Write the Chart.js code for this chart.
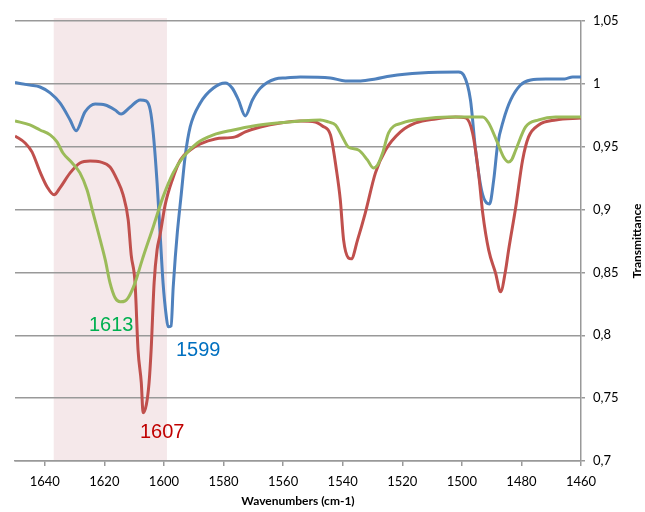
<!DOCTYPE html>
<html>
<head>
<meta charset="utf-8">
<script src="https://cdn.jsdelivr.net/npm/chart.js@4.4.1/dist/chart.umd.min.js"></script>
<style>
  html, body { margin: 0; padding: 0; background: #fff; }
  #wrap { width: 645px; height: 512px; position: relative; }
</style>
</head>
<body>
<div id="wrap"><canvas id="irChart"></canvas></div>
<script>
// blue spectrum
const blueWn = [1650, 1645, 1641.6, 1638.2, 1634.9, 1631.5, 1629.5, 1626.5, 1623.1, 1619.7, 1616.4, 1614.4, 1611.3, 1608, 1606, 1604.6,
  1603.6, 1602.3, 1601.3, 1600.3, 1599.2, 1598.6, 1597.6, 1596.9, 1596.2, 1595.5, 1594.2, 1592.9, 1591.2, 1587.8, 1583.4, 1579.4,
  1577.1, 1575, 1572.7, 1570.3, 1567.6, 1562.6, 1559.2, 1554.2, 1544.1, 1539.1, 1534, 1529, 1523.9, 1513.9, 1501.1, 1499.4,
  1497.1, 1495.4, 1493.4, 1491.7, 1490.7, 1489.3, 1488, 1486, 1483.6, 1480.3, 1476.9, 1471.8, 1465.5, 1462.8, 1460];
const blueT = [1.001, 0.999, 0.9975, 0.9928, 0.9848, 0.9713, 0.9626, 0.9777, 0.984, 0.9832, 0.9792, 0.976, 0.9816, 0.9872, 0.9864, 0.9792,
  0.961, 0.9212, 0.8815, 0.8417, 0.8147, 0.8067, 0.8075, 0.838, 0.862, 0.882, 0.912, 0.9419, 0.9657, 0.9848, 0.9967, 1.0007,
  0.9967, 0.9872, 0.9745, 0.9872, 0.9967, 1.0039, 1.0047, 1.0055, 1.0047, 1.0023, 1.0023, 1.0039, 1.0063, 1.0087, 1.0095, 1.0071,
  0.9872, 0.9474, 0.9156, 0.9053, 0.9045, 0.9236, 0.9514, 0.9713, 0.9872, 0.9991, 1.0031, 1.0039, 1.0039, 1.0055, 1.0055];

// red spectrum
const redWn = [1650, 1646.6, 1644.3, 1641.6, 1639.2, 1636.9, 1634.9, 1631.5, 1628.2, 1624.8, 1621.4, 1618.1, 1615.7, 1613.7, 1612, 1611,
  1609.7, 1608.7, 1607.6, 1607, 1605.9, 1605, 1604.3, 1603.3, 1602.3, 1601.3, 1599.6, 1597.2, 1594.5, 1591.2, 1587.8, 1582.8,
  1576.1, 1572.7, 1567.6, 1560.9, 1554.2, 1549.2, 1546.8, 1544.1, 1542.1, 1540.8, 1539.7, 1538.1, 1537.1, 1535, 1532.4, 1529,
  1525.6, 1520.6, 1515.5, 1508.8, 1502.1, 1498.7, 1496.4, 1494.4, 1493, 1491, 1488.7, 1487, 1485.3, 1484.3, 1481.9, 1479.6,
  1477.6, 1474.2, 1468.5, 1460];
const redT = [0.9586, 0.953, 0.9459, 0.93, 0.918, 0.9117, 0.9173, 0.9292, 0.9371, 0.9387, 0.9379, 0.9339, 0.9236, 0.9117, 0.8918, 0.864,
  0.8417, 0.7884, 0.7622, 0.7384, 0.745, 0.7622, 0.7884, 0.8417, 0.868, 0.8799, 0.9037, 0.9236, 0.9395, 0.9474, 0.9522, 0.9562,
  0.9578, 0.9618, 0.9657, 0.9689, 0.9705, 0.9697, 0.9665, 0.9594, 0.9315, 0.9077, 0.8759, 0.8616, 0.8608, 0.8759, 0.8974, 0.9292,
  0.9474, 0.9618, 0.9689, 0.9721, 0.9737, 0.9729, 0.961, 0.9292, 0.8974, 0.8679, 0.8497, 0.8346, 0.852, 0.8679, 0.9021, 0.9395,
  0.9578, 0.9673, 0.9713, 0.9729];

// green spectrum
const greenWn = [1650, 1645, 1641.6, 1638.2, 1635.9, 1633.9, 1630.8, 1628.2, 1625.8, 1623.8, 1621.4, 1619.7, 1618.1, 1616.4, 1614.7, 1613,
  1612, 1609.7, 1607.3, 1603.6, 1600.3, 1596.9, 1593.5, 1588.8, 1583.4, 1576.7, 1570, 1561.9, 1554.2, 1547.5, 1544.8, 1542.4,
  1540.1, 1538.1, 1534.7, 1531.7, 1529.7, 1528.3, 1526.6, 1524.6, 1519.9, 1513.2, 1504.5, 1493, 1491, 1488, 1486, 1484.3,
  1483.3, 1481.9, 1478.6, 1474.2, 1468.5, 1460];
const greenT = [0.9705, 0.9673, 0.9633, 0.9594, 0.9538, 0.945, 0.9371, 0.9292, 0.9156, 0.8974, 0.8759, 0.86, 0.8417, 0.8298, 0.8266, 0.8274,
  0.8298, 0.8417, 0.86, 0.8862, 0.9101, 0.9292, 0.9419, 0.953, 0.9594, 0.9633, 0.9665, 0.9689, 0.9705, 0.9713, 0.9697, 0.9673,
  0.9578, 0.9498, 0.9474, 0.9395, 0.9331, 0.9355, 0.945, 0.961, 0.9689, 0.9721, 0.9737, 0.9737, 0.9689, 0.953, 0.9419, 0.9379,
  0.9395, 0.9474, 0.9657, 0.9713, 0.9737, 0.9737];

const xTicks = [1640, 1620, 1600, 1580, 1560, 1540, 1520, 1500, 1480, 1460];
const peakLabels = ['1613', '1599', '1607'];
const peakWn = [1617.7, 1588.5, 1600.6];
const peakT = [0.808, 0.788, 0.7225];
const bandRange = [1637, 1599];

const toPoints = (xs, ys) => xs.map((x, i) => ({ x: x, y: ys[i] }));

const bandPlugin = {
  id: 'band',
  beforeDraw(chart) {
    const { ctx, chartArea, scales } = chart;
    const x1 = scales.x.getPixelForValue(bandRange[0]);
    const x2 = scales.x.getPixelForValue(bandRange[1]);
    ctx.save();
    ctx.fillStyle = '#F5E8EA';
    ctx.fillRect(x1, chartArea.top - 3, x2 - x1, chartArea.bottom - chartArea.top + 3);
    ctx.restore();
  }
};

const labelPlugin = {
  id: 'peaks',
  afterDatasetsDraw(chart) {
    const { ctx, scales } = chart;
    const colors = ['#00B050', '#0070C0', '#C00000'];
    ctx.save();
    ctx.font = '20px "Liberation Sans", Arial, sans-serif';
    ctx.textAlign = 'center';
    ctx.textBaseline = 'middle';
    peakLabels.forEach((t, i) => {
      ctx.fillStyle = colors[i];
      ctx.fillText(t, scales.x.getPixelForValue(peakWn[i]), scales.y.getPixelForValue(peakT[i]));
    });
    // right-hand axis title, reading bottom to top
    const a = chart.chartArea;
    ctx.translate(637, (a.top + a.bottom) / 2);
    ctx.rotate(-Math.PI / 2);
    ctx.fillStyle = '#000';
    ctx.font = 'bold 12px Lato, "Open Sans", sans-serif';
    ctx.fillText('Transmittance', 0, 0);
    ctx.restore();
  }
};

const lineStyle = (color) => ({
  borderColor: color,
  borderWidth: 3,
  pointRadius: 0,
  cubicInterpolationMode: 'monotone',
  fill: false
});

new Chart(document.getElementById('irChart'), {
  type: 'line',
  data: {
    datasets: [
      { label: 'green', data: toPoints(greenWn, greenT), ...lineStyle('#9BBB59') },
      { label: 'red', data: toPoints(redWn, redT), ...lineStyle('#C0504D') },
      { label: 'blue', data: toPoints(blueWn, blueT), ...lineStyle('#4F81BD') }
    ]
  },
  options: {
    responsive: true,
    maintainAspectRatio: false,
    animation: false,
    layout: { padding: { left: 15, top: 21, right: 0, bottom: 0 } },
    plugins: { legend: { display: false }, tooltip: { enabled: false } },
    scales: {
      x: {
        type: 'linear',
        reverse: true,
        min: 1460,
        max: 1650,
        afterBuildTicks: (s) => { s.ticks = xTicks.map(v => ({ value: v })); },
        afterFit: (s) => { s.height = 51; },
        ticks: { color: '#000', font: { family: 'Lato', size: 13 }, padding: 8, maxRotation: 0, callback: (v) => String(v) },
        grid: { drawOnChartArea: false, drawTicks: true, tickLength: 5, color: '#999', lineWidth: 1.5 },
        border: { display: true, color: '#999', width: 1.5 },
        title: { display: true, text: 'Wavenumbers (cm-1)', color: '#000', font: { family: 'Lato', size: 12, weight: 'bold' }, padding: { top: 4 } }
      },
      y: {
        position: 'right',
        min: 0.7,
        max: 1.05,
        afterFit: (s) => { s.width = 64; },
        ticks: {
          stepSize: 0.05,
          color: '#000',
          font: { family: 'Lato', size: 13 },
          padding: 8,
          callback: (v) => String(Math.round(v * 100) / 100).replace('.', ',')
        },
        grid: { color: '#999', lineWidth: 1.5, drawTicks: true, tickLength: 4 },
        border: { display: true, color: '#999', width: 1.5 }
      }
    }
  },
  plugins: [bandPlugin, labelPlugin]
});
</script>
</body>
</html>
